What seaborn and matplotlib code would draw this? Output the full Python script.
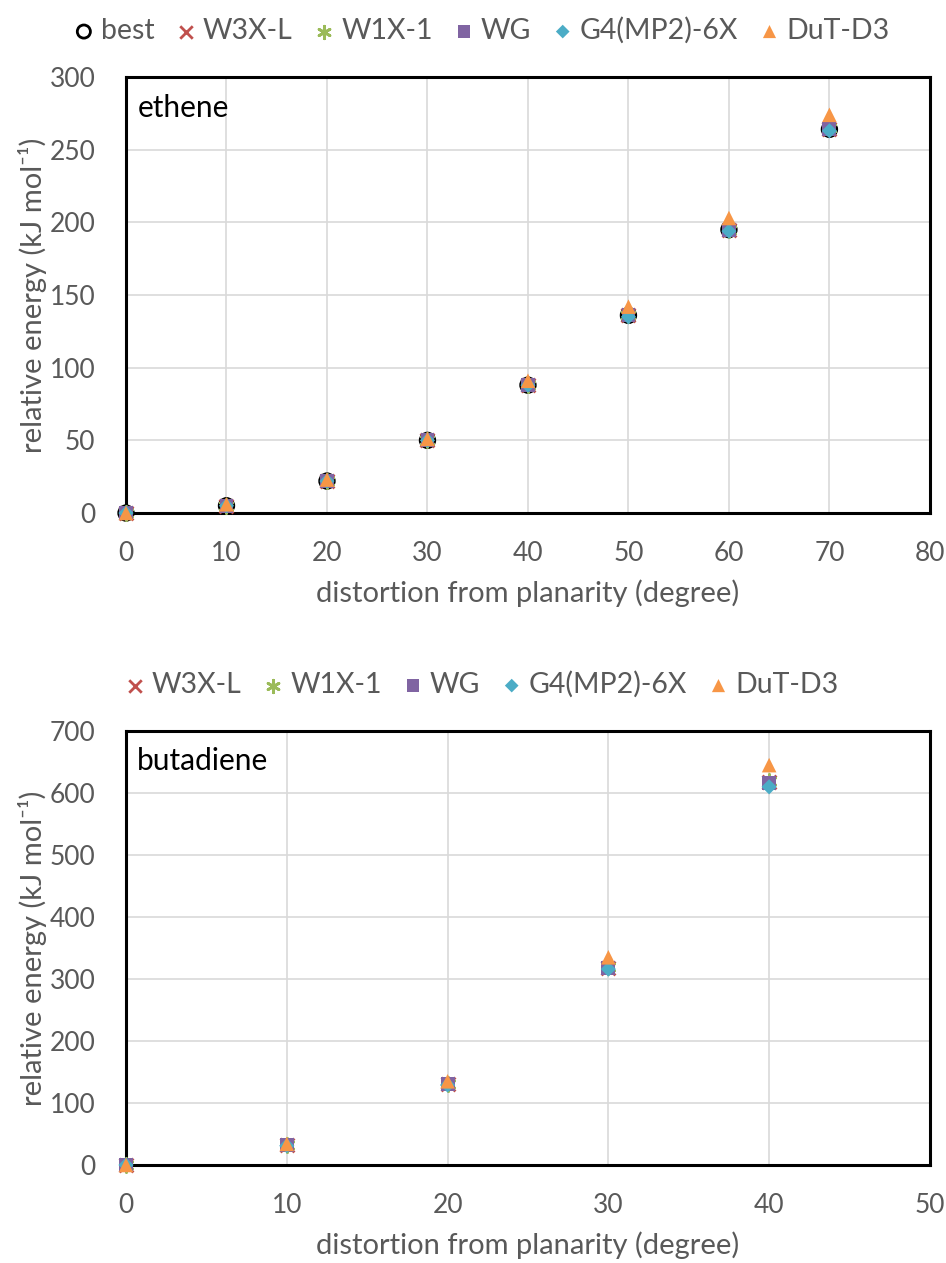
import numpy as np
import pandas as pd
import matplotlib
matplotlib.use("Agg")
import matplotlib.pyplot as plt
import seaborn as sns

# ethene: distortion angle and relative energies (kJ/mol)
eth_angle = [0, 10, 20, 30, 40, 50, 60, 70]
eth_best = [0, 5, 22, 50, 88, 136, 195, 264]
eth_w3xl = [0, 5, 22, 50, 88, 136, 195, 264]
eth_w1x1 = [0, 5, 22, 50, 88, 136, 195, 265]
eth_wg = [0, 5, 22, 50, 88, 136, 195, 264]
eth_g4 = [0, 5, 22, 50, 88, 135, 194, 263]
eth_dut = [0, 6, 23, 51, 91, 142, 203, 274]

# butadiene
but_angle = [0, 10, 20, 30, 40]
but_w3xl = [0, 32, 130, 318, 617]
but_w1x1 = [0, 32, 131, 319, 620]
but_wg = [0, 32, 130, 318, 616]
but_g4 = [0, 31, 129, 316, 610]
but_dut = [0, 34, 135, 335, 645]

methods = ["best", "W3X-L", "W1X-1", "WG", "G4(MP2)-6X", "DuT-D3"]
colors = {"best": "black", "W3X-L": "#c0504d", "W1X-1": "#9bbb59", "WG": "#8064a2",
          "G4(MP2)-6X": "#4bacc6", "DuT-D3": "#f79646"}
markers = {"best": "o", "W3X-L": "x", "W1X-1": (6, 2, 0), "WG": "s",
           "G4(MP2)-6X": "D", "DuT-D3": "^"}
sizes = {"best": 110, "W3X-L": 100, "W1X-1": 100, "WG": 100, "G4(MP2)-6X": 60, "DuT-D3": 110}

sns.set_style("white")
plt.rcParams["font.family"] = ["Lato", "DejaVu Sans"]
gray = "#595959"

fig = plt.figure(figsize=(9.46, 12.63), dpi=100)
ax1 = fig.add_axes([0.1332, 0.5938, 0.8498, 0.3452])
ax2 = fig.add_axes([0.1332, 0.0776, 0.8498, 0.3436])


def draw(ax, df):
    for m in df["method"].unique():
        sub = df[df["method"] == m]
        if m == "best":
            ax.scatter(sub["angle"], sub["energy"], s=sizes[m], marker="o",
                       facecolors="none", edgecolors="black", linewidths=2,
                       label=m, zorder=3)
        elif m in ("W3X-L", "W1X-1"):
            ax.scatter(sub["angle"], sub["energy"], s=sizes[m], marker=markers[m],
                       color=colors[m], linewidths=2, label=m, zorder=3)
        else:
            sns.scatterplot(x=sub["angle"], y=sub["energy"], ax=ax, s=sizes[m],
                            marker=markers[m], color=colors[m], edgecolor="none",
                            label=m, zorder=3)


eth = pd.concat([pd.DataFrame({"angle": eth_angle, "energy": v, "method": m})
                 for m, v in zip(methods, [eth_best, eth_w3xl, eth_w1x1, eth_wg, eth_g4, eth_dut])])
but = pd.concat([pd.DataFrame({"angle": but_angle, "energy": v, "method": m})
                 for m, v in zip(methods[1:], [but_w3xl, but_w1x1, but_wg, but_g4, but_dut])])

draw(ax1, eth)
draw(ax2, but)

for ax, xmax, ymax, ystep, name in [(ax1, 80, 300, 50, "ethene"),
                                    (ax2, 50, 700, 100, "butadiene")]:
    ax.set_xlim(0, xmax)
    ax.set_ylim(0, ymax)
    ax.set_xticks(np.arange(0, xmax + 1, 10))
    ax.set_yticks(np.arange(0, ymax + 1, ystep))
    ax.grid(True, color="#d9d9d9", linewidth=1.2)
    ax.set_axisbelow(True)
    for s in ax.spines.values():
        s.set_color("black")
        s.set_linewidth(2.2)
    ax.tick_params(axis="both", length=0, labelsize=19, colors=gray)
    ax.tick_params(axis="x", pad=20)
    ax.tick_params(axis="y", pad=22)
    ax.set_xlabel("distortion from planarity (degree)", fontsize=21, color=gray, labelpad=10)
    ax.set_ylabel("relative energy (kJ mol\u207b\u00b9)", fontsize=21, color=gray, labelpad=2)
    ax.text(0.014, 0.93, name, transform=ax.transAxes, fontsize=21.5, color="black", va="center")
    for c in ax.collections:
        c.set_clip_on(False)
    h, l = ax.get_legend_handles_labels()
    ax.legend(h, l, loc="lower center", bbox_to_anchor=(0.44, 1.03), ncol=len(l), frameon=False,
              fontsize=20.5, handletextpad=0.1, columnspacing=0.6, labelcolor=gray,
              borderaxespad=0.3, handlelength=1.0, markerscale=0.9)

fig.savefig("out.png", dpi=100)
